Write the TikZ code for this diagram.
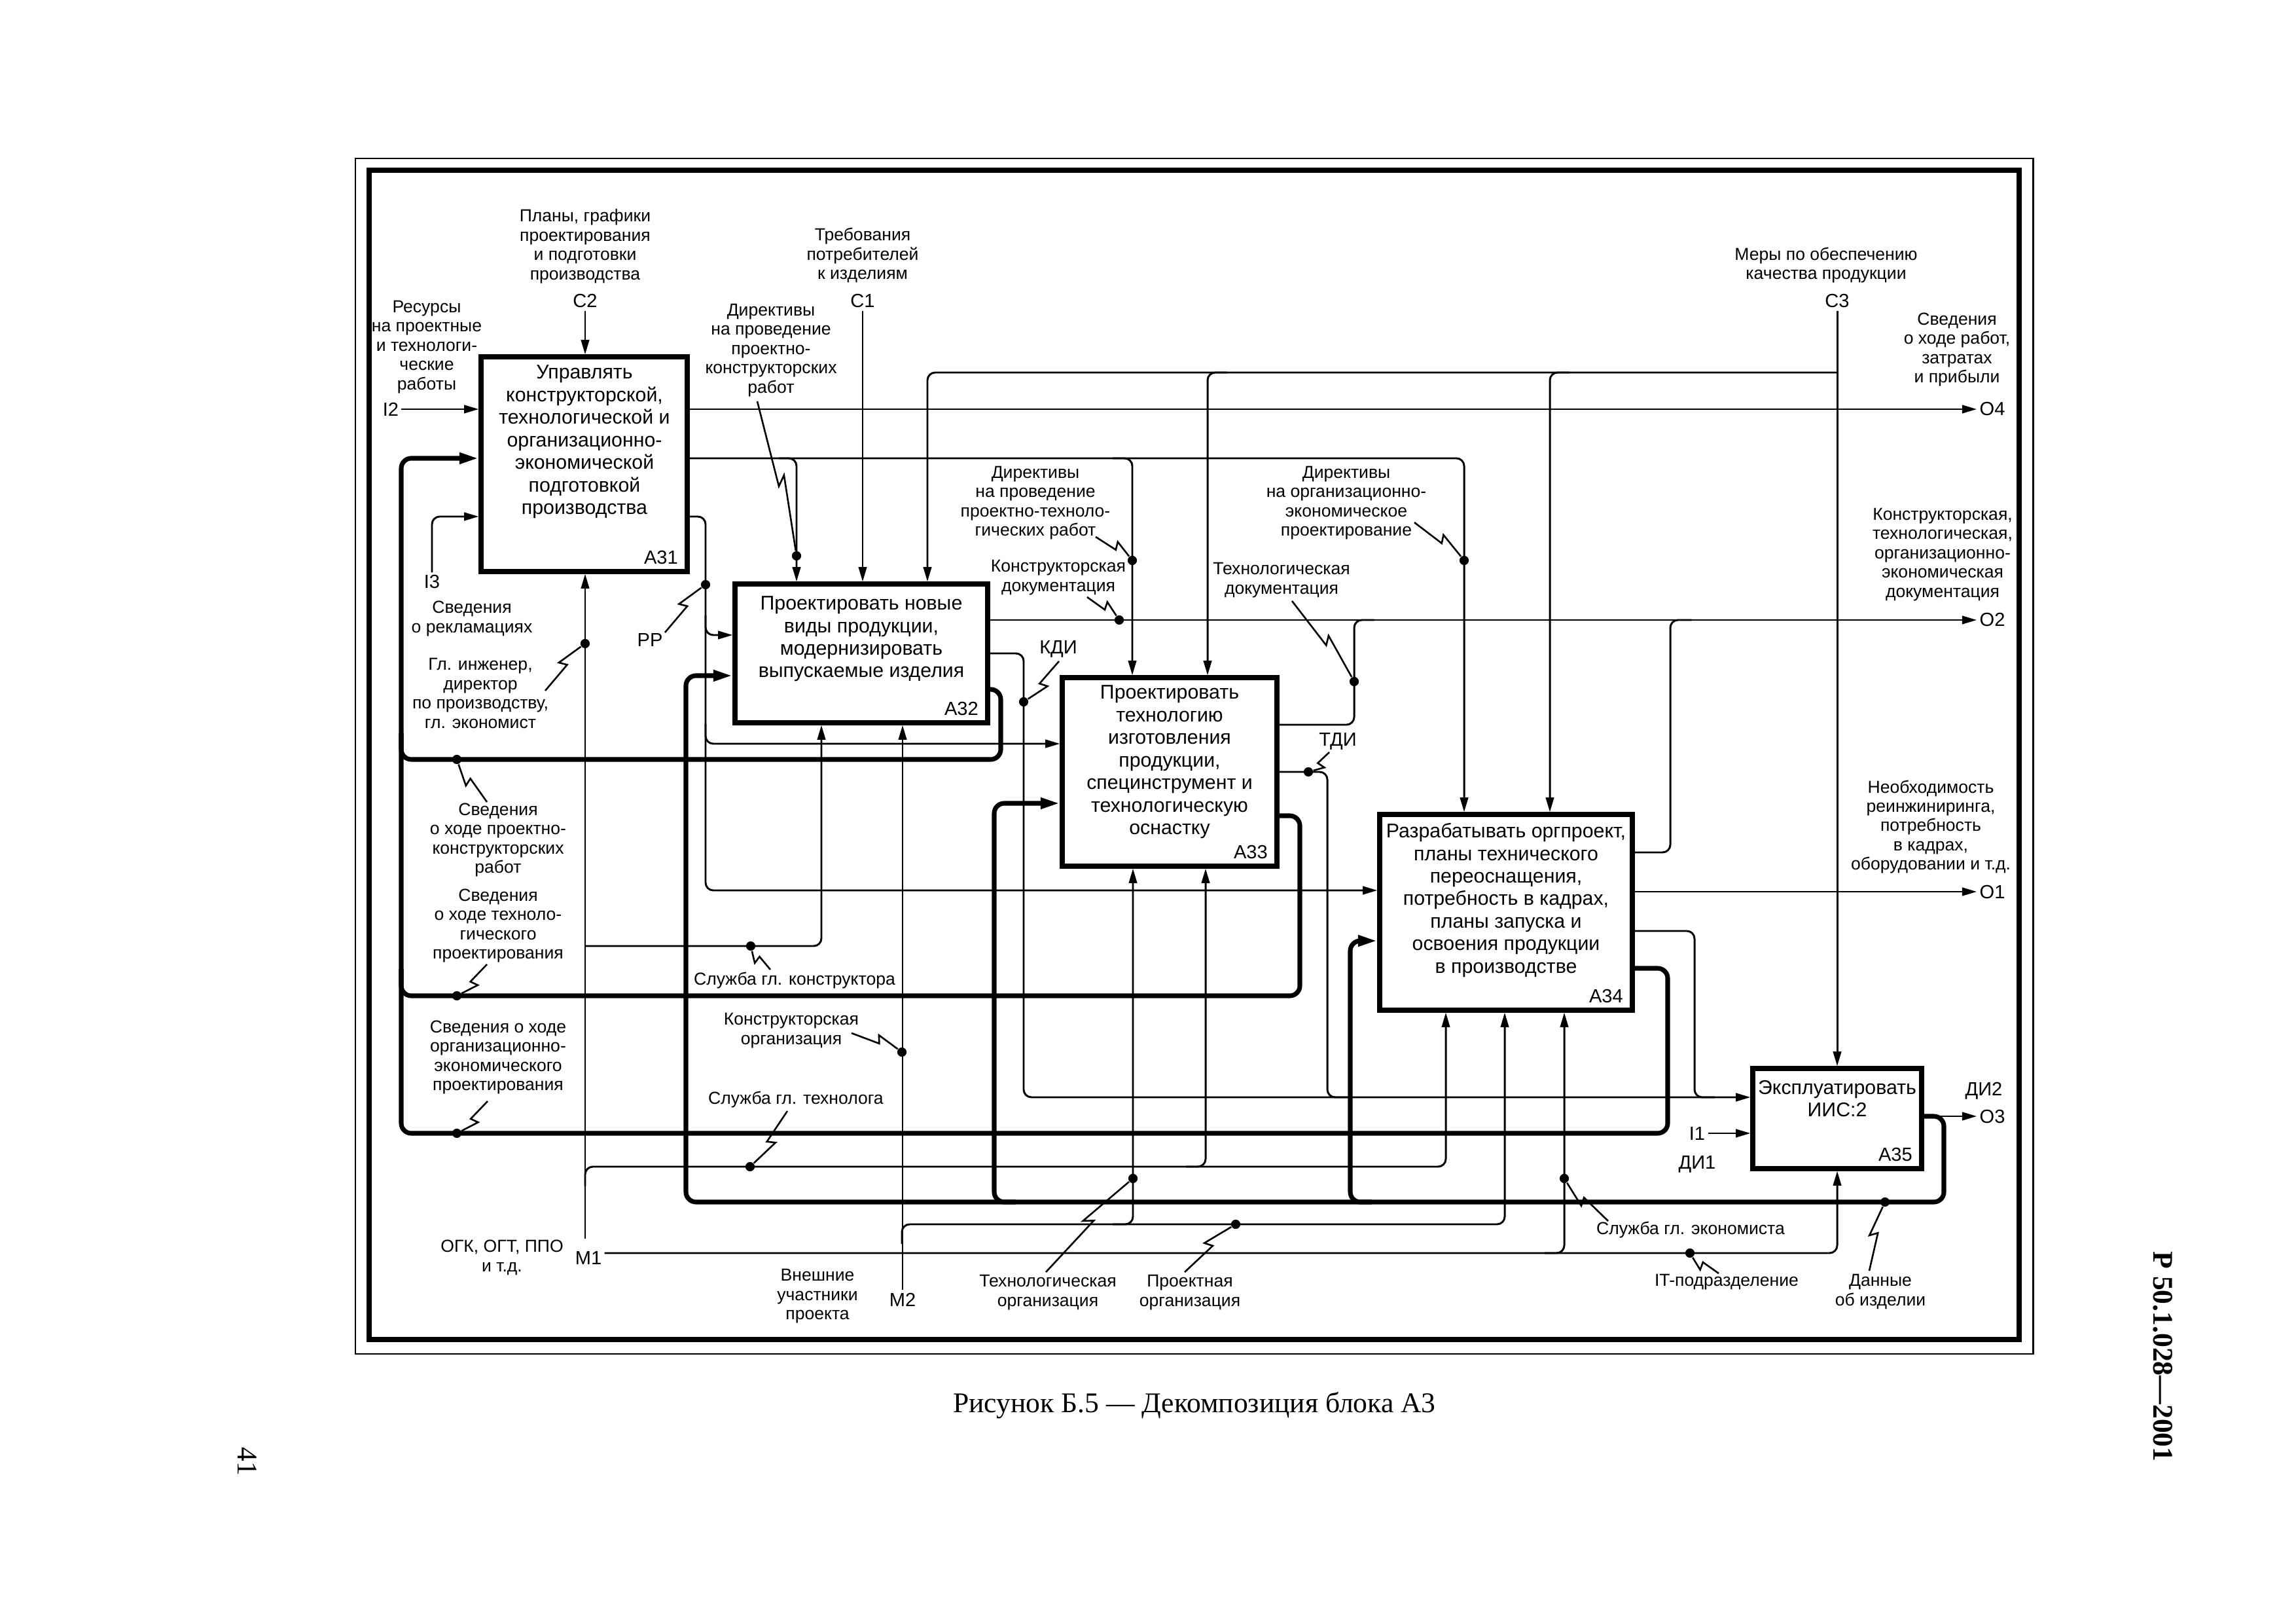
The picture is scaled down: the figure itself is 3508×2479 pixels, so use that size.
\documentclass[tikz,border=0pt]{standalone}
\usepackage{fontspec}
\setmainfont{Liberation Serif}
\newfontfamily\diasf{Liberation Sans}
\usetikzlibrary{arrows.meta,calc,fit}

\newlength\pxl
\setlength\pxl{0.08467mm}

\tikzset{
  fline/.style={line width=0.25mm, rounded corners=1mm},
  tline/.style={line width=0.6mm, rounded corners=1.3mm},
  farr/.style={fline, -{Triangle[length=1.9mm,width=1.05mm]}},
  tarr/.style={tline, -{Triangle[length=2.5mm,width=1.35mm]}},
  box/.style={draw, line width=0.6mm, inner sep=0pt},
  btxt/.style={font=\diasf\fontsize{7.3}{8.3}\selectfont, align=center, inner sep=0pt},
  lbl/.style={font=\diasf\fontsize{6.4}{7.1}\selectfont, align=center, inner sep=0pt},
  icom/.style={font=\diasf\fontsize{7}{8}\selectfont, inner sep=0.3mm},
  jdot/.style={circle, fill, inner sep=0pt, minimum size=1.2mm},
  squig/.style={line width=0.22mm, to path={-- ($(\tikztostart)!0.55!(\tikztotarget)$) -- ($(\tikztostart)!0.49!(\tikztotarget)!1mm!90:(\tikztotarget)$) -- (\tikztotarget)}},
}

\begin{document}
\begin{tikzpicture}[x=1\pxl, y=-1\pxl]
\useasboundingbox (0,0) rectangle (3508,2479);
% frame
\draw[line width=0.25mm] (543,242) rectangle (3106,2068);
\draw[line width=0.68mm] (564,260) rectangle (3085,2046);

% blocks
\node[box, fit={(735,545) (1050,873)}] (A31) {};
\node[box, fit={(1123,892) (1509,1104)}] (A32) {};
\node[box, fit={(1623,1035) (1951,1323)}] (A33) {};
\node[box, fit={(2108,1244) (2494,1543)}] (A34) {};
\node[box, fit={(2678,1632) (2936,1785)}] (A35) {};

\node[btxt] (A31t) at (893,675) {Управлять\\конструкторской,\\технологической и\\организационно-\\экономической\\подготовкой\\производства};
\node[btxt] (A32t) at (1316,976) {Проектировать новые\\виды продукции,\\модернизировать\\выпускаемые изделия};
\node[btxt] (A33t) at (1787,1164) {Проектировать\\технологию\\изготовления\\продукции,\\специнструмент и\\технологическую\\оснастку};
\node[btxt] (A34t) at (2301,1375) {Разрабатывать оргпроект,\\планы технического\\переоснащения,\\потребность в кадрах,\\планы запуска и\\освоения продукции\\в производстве};
\node[btxt] (A35t) at (2807,1678) {Эксплуатировать\\ИИС:2};

\node[icom, anchor=south east, inner sep=0pt] (A31n) at ($(A31.south east)+(-17,-14)$) {A31};
\node[icom, anchor=south east, inner sep=0pt] (A32n) at ($(A32.south east)+(-17,-14)$) {A32};
\node[icom, anchor=south east, inner sep=0pt] (A33n) at ($(A33.south east)+(-17,-14)$) {A33};
\node[icom, anchor=south east, inner sep=0pt] (A34n) at ($(A34.south east)+(-17,-14)$) {A34};
\node[icom, anchor=south east, inner sep=0pt] (A35n) at ($(A35.south east)+(-17,-14)$) {A35};

% boundary codes
\node[icom] (C2) at (894,460) {C2};
\node[icom] (C1) at (1318,460) {C1};
\node[icom] (C3) at (2807,460) {C3};
\node[icom] (I2) at (597,625) {I2};
\node[icom] (I3) at (660,889) {I3};
\node[icom] (I1) at (2593,1731) {I1};
\node[icom] (O4) at (3044,625) {O4};
\node[icom] (O2) at (3044,947) {O2};
\node[icom] (O1) at (3044,1362) {O1};
\node[icom] (O3) at (3044,1705) {O3};
\node[icom] (M1) at (899,1921) {M1};
\node[icom] (M2) at (1379,1985) {M2};
\node[icom] (DI2) at (3031,1666) {ДИ2};
\node[icom] (DI1) at (2593,1778) {ДИ1};
\node[icom] (KDI) at (1617,991) {КДИ};
\node[icom] (TDI) at (2044,1132) {ТДИ};
\node[icom] (RR) at (993,978) {РР};

% arrow labels
\node[lbl] (Lplan) at (894,376) {Планы, графики\\проектирования\\и подготовки\\производства};
\node[lbl] (Ltreb) at (1318,390) {Требования\\потребителей\\к изделиям};
\node[lbl] (Lres) at (652,530) {Ресурсы\\на проектные\\и технологи-\\ческие\\работы};
\node[lbl] (Ldpk) at (1178,535) {Директивы\\на проведение\\проектно-\\конструкторских\\работ};
\node[lbl] (Lmery) at (2790,405) {Меры по обеспечению\\качества продукции};
\node[lbl] (Lsvr) at (2990,534) {Сведения\\о ходе работ,\\затратах\\и прибыли};
\node[lbl] (Ldoc) at (2968,847) {Конструкторская,\\технологическая,\\организационно-\\экономическая\\документация};
\node[lbl] (Ldpt) at (1582,768) {Директивы\\на проведение\\проектно-техноло-\\гических работ};
\node[lbl] (Ldoe) at (2057,768) {Директивы\\на организационно-\\экономическое\\проектирование};
\node[lbl] (Lkd) at (1617,882) {Конструкторская\\документация};
\node[lbl] (Ltd) at (1958,886) {Технологическая\\документация};
\node[lbl] (Lrekl) at (721,945) {Сведения\\о рекламациях};
\node[lbl] (Lgl) at (734,1059) {Гл. инженер,\\директор\\по производству,\\гл. экономист};
\node[lbl] (Lspk) at (761,1283) {Сведения\\о ходе проектно-\\конструкторских\\работ};
\node[lbl] (Lstp) at (761,1414) {Сведения\\о ходе техноло-\\гического\\проектирования};
\node[lbl] (Lsgk) at (1214,1498) {Служба гл. конструктора};
\node[lbl] (Lsoe) at (761,1615) {Сведения о ходе\\организационно-\\экономического\\проектирования};
\node[lbl] (Lko) at (1209,1574) {Конструкторская\\организация};
\node[lbl] (Lsgt) at (1216,1680) {Служба гл. технолога};
\node[lbl] (Logk) at (767,1921) {ОГК, ОГТ, ППО\\и т.д.};
\node[lbl] (Lvn) at (1249,1980) {Внешние\\участники\\проекта};
\node[lbl] (Lto) at (1601,1974) {Технологическая\\организация};
\node[lbl] (Lpo) at (1818,1974) {Проектная\\организация};
\node[lbl] (Lneo) at (2950,1263) {Необходимость\\реинжиниринга,\\потребность\\в кадрах,\\оборудовании и т.д.};
\node[lbl] (Lsge) at (2583,1879) {Служба гл. экономиста};
\node[lbl] (Lit) at (2638,1958) {IT-подразделение};
\node[lbl] (Ldan) at (2873,1973) {Данные\\об изделии};

% controls
\draw[farr] (C2) -- (C2 |- A31.north);
\draw[farr] (C1) -- (C1 |- A32.north);
\draw[farr] (C3) -- (C3 |- A35.north);
\draw[farr] (C3 |- 0,569) -- (1417,569) -- (1417,569 |- A32.north);
\draw[farr] (1875,569) -- (1845,569) -- (1845,569 |- A33.north);
\draw[farr] (2398,569) -- (2368,569) -- (2368,569 |- A34.north);

% A31 outputs
\draw[farr] (A31.east |- O4) -- (O4);
\draw[farr] (A31.east |- 0,700) -- (2237,700) -- (2237,700 |- A34.north);
\draw[farr] (1190,700) -- (1217,700) -- (1217,700 |- A32.north);
\draw[farr] (1700,700) -- (1730,700) -- (1730,700 |- A33.north);
\draw[farr] (A31.east |- 0,789) -- (1078,789) -- (1078,1360) -- (A34.west |- 0,1360);
\draw[farr] (1078,940) -- (1078,970) -- (A32.west |- 0,970);
\draw[farr] (1078,1106) -- (1078,1136) -- (A33.west |- 0,1136);

% inputs
\draw[farr] (I2) -- (A31.west |- I2);
\draw[farr] (I3) -- (I3 |- 0,789) -- (A31.west |- 0,789);
\draw[farr] (I1) -- (A35.west |- I1);

% outputs of A32..A35
\draw[farr] (A32.east |- O2) -- (O2);
\draw[fline] (A33.east |- 0,1107) -- (2069,1107) -- (2069,947) -- (2100,947);
\draw[fline] (A34.east |- 0,1302) -- (2552,1302) -- (2552,947) -- (2585,947);
\draw[farr] (A32.east |- 0,998) -- (1564,998) -- (1564,1676) -- (A35.west |- 0,1676);
\draw[fline] (A33.east |- 0,1179) -- (2028,1179) -- (2028,1676) -- (2060,1676);
\draw[fline] (A34.east |- 0,1422) -- (2589,1422) -- (2589,1676) -- (2620,1676);
\draw[farr] (A34.east |- O1) -- (O1);
\draw[farr] (A35.east |- O3) -- (O3);

% feedback
\draw[tarr] (A32.east |- 0,1053) -- (1529,1053) -- (1529,1160) -- (613,1160) -- (613,700) -- (A31.west |- 0,700);
\draw[tline] (A33.east |- 0,1246) -- (1986,1246) -- (1986,1521) -- (613,1521) -- (613,1120);
\draw[tline] (A34.east |- 0,1479) -- (2548,1479) -- (2548,1731) -- (613,1731) -- (613,1480);
\draw[tarr] (A35.east |- 0,1705) -- (2970,1705) -- (2970,1836) -- (1048,1836) -- (1048,1032) -- (A32.west |- 0,1032);
\draw[tarr] (1552,1836) -- (1519,1836) -- (1519,1227) -- (A33.west |- 0,1227);
\draw[tarr] (2096,1836) -- (2063,1836) -- (2063,1437) -- (A34.west |- 0,1437);

% mechanisms
\coordinate (m1v) at (894,1892);
\draw[farr] (m1v) -- (m1v |- A31.south);
\draw[farr] (894,1445) -- (1255,1445) -- (1255,1445 |- A32.south);
\draw[farr] (894,1812) -- (894,1782) -- (1842,1782) -- (1842,1782 |- A33.south);
\draw[farr] (1812,1782) -- (2209,1782) -- (2209,1782 |- A34.south);
\draw[farr] (M1.east |- 0,1914) -- (2807,1914) -- (2807,1914 |- A35.south);
\draw[farr] (2360,1914) -- (2390,1914) -- (2390,1914 |- A34.south);
\draw[farr] (M2) -- (M2 |- A32.south);
\draw[farr] (1378,1900) -- (1378,1870) -- (1731,1870) -- (1731,1870 |- A33.south);
\draw[farr] (1700,1870) -- (2299,1870) -- (2299,1870 |- A34.south);

% junction dots
\node[jdot] (d-pkr) at (1217,849) {};
\node[jdot] (d-ptr) at (1730,856) {};
\node[jdot] (d-oep) at (2237,856) {};
\node[jdot] (d-kd) at (1710,947) {};
\node[jdot] (d-td) at (2069,1041) {};
\node[jdot] (d-kdi) at (1564,1072) {};
\node[jdot] (d-tdi) at (1999,1179) {};
\node[jdot] (d-rr) at (1078,893) {};
\node[jdot] (d-gl) at (894,983) {};
\node[jdot] (d-spk) at (698,1160) {};
\node[jdot] (d-stp) at (698,1521) {};
\node[jdot] (d-soe) at (698,1731) {};
\node[jdot] (d-sgk) at (1147,1445) {};
\node[jdot] (d-ko) at (1378,1607) {};
\node[jdot] (d-sgt) at (1146,1782) {};
\node[jdot] (d-to) at (1731,1800) {};
\node[jdot] (d-po) at (1888,1870) {};
\node[jdot] (d-sge) at (2390,1800) {};
\node[jdot] (d-it) at (2582,1914) {};
\node[jdot] (d-di) at (2880,1836) {};

% squiggle starts
\coordinate (s-pkr) at (1157,613);
\coordinate (s-ptr) at (1674,820);
\coordinate (s-oep) at (2161,798);
\coordinate (s-kd) at (1661,912);
\coordinate (s-td) at (1974,918);
\coordinate (s-kdi) at (1618,1010);
\coordinate (s-tdi) at (2031,1149);
\coordinate (s-rr) at (1016,966);
\coordinate (s-gl) at (833,1055);
\coordinate (s-spk) at (744,1225);
\coordinate (s-stp) at (744,1473);
\coordinate (s-soe) at (745,1682);
\coordinate (s-sgk) at (1177,1481);
\coordinate (s-ko) at (1301,1578);
\coordinate (s-sgt) at (1203,1697);
\coordinate (s-to) at (1598,1943);
\coordinate (s-po) at (1810,1943);
\coordinate (s-sge) at (2457,1865);
\coordinate (s-it) at (2626,1945);
\coordinate (s-di) at (2856,1941);

\foreach \n in {pkr,ptr,oep,kd,td,kdi,tdi,rr,gl,spk,stp,soe,sgk,ko,sgt,to,po,sge,it,di}
  \draw[squig] (s-\n) to (d-\n);

% page texts
\node[font=\fontsize{10.5}{12}\selectfont] (cap) at (1825,2147) {Рисунок Б.5 — Декомпозиция блока А3};
\node[rotate=-90, font=\bfseries\fontsize{10.5}{12}\selectfont] (std) at (3305,2072) {Р 50.1.028—2001};
\node[rotate=-90, font=\fontsize{10.5}{12}\selectfont] (pg) at (378,2232) {41};
\end{tikzpicture}
\end{document}
